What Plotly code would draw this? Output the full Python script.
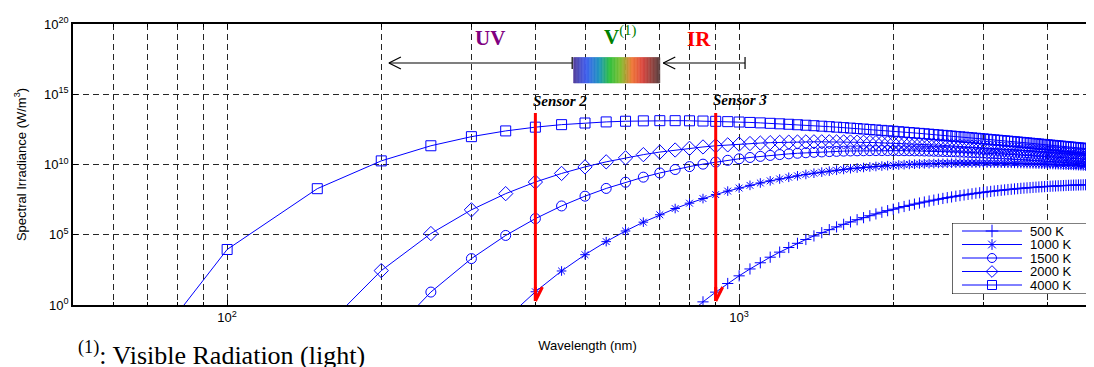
import math
import plotly.graph_objects as go

# ---------------- data ----------------
wavelength_nm = [50, 100, 150, 200, 250, 300, 350, 400, 450, 500,
                 550, 600, 650, 700, 750, 800, 850, 900, 950, 1000,
                 1050, 1100, 1150, 1200, 1250, 1300, 1350, 1400, 1450, 1500,
                 1550, 1600, 1650, 1700, 1750, 1800, 1850, 1900, 1950, 2000,
                 2050, 2100, 2150, 2200, 2250, 2300, 2350, 2400, 2450, 2500,
                 2550, 2600, 2650, 2700, 2750, 2800, 2850, 2900, 2950, 3000,
                 3050, 3100, 3150, 3200, 3250, 3300, 3350, 3400, 3450, 3500,
                 3550, 3600, 3650, 3700, 3750, 3800, 3850, 3900, 3950, 4000,
                 4050, 4100, 4150, 4200, 4250, 4300, 4350, 4400, 4450, 4500,
                 4550, 4600, 4650, 4700, 4750, 4800, 4850, 4900, 4950, 5000]

# spectral irradiance, given as log10(W/m^3)
log10_irr_500K = [-228.87, -105.40, -64.62, -44.42, -32.41, -24.47, -18.854, -14.680, -11.465, -8.917,
                  -6.852, -5.147, -3.718, -2.505, -1.465, -0.564, 0.223, 0.916, 1.530, 2.076,
                  2.565, 3.005, 3.403, 3.763, 4.091, 4.390, 4.664, 4.916, 5.147, 5.361,
                  5.558, 5.742, 5.912, 6.070, 6.217, 6.354, 6.482, 6.601, 6.714, 6.819,
                  6.918, 7.011, 7.098, 7.180, 7.258, 7.330, 7.400, 7.465, 7.526, 7.584,
                  7.639, 7.691, 7.741, 7.787, 7.832, 7.874, 7.914, 7.952, 7.988, 8.021,
                  8.054, 8.085, 8.114, 8.142, 8.168, 8.193, 8.218, 8.239, 8.262, 8.281,
                  8.302, 8.320, 8.337, 8.355, 8.371, 8.385, 8.400, 8.414, 8.426, 8.439,
                  8.451, 8.461, 8.472, 8.482, 8.491, 8.499, 8.508, 8.516, 8.523, 8.531,
                  8.537, 8.543, 8.549, 8.554, 8.559, 8.565, 8.568, 8.573, 8.577, 8.580]

log10_irr_1000K = [-103.89, -42.914, -22.965, -13.175, -7.412, -3.641, -1.000, 0.941, 2.421, 3.581,
                   4.510, 5.268, 5.896, 6.421, 6.866, 7.247, 7.575, 7.859, 8.107, 8.324,
                   8.516, 8.685, 8.836, 8.970, 9.090, 9.196, 9.292, 9.380, 9.457, 9.527,
                   9.590, 9.648, 9.699, 9.745, 9.787, 9.826, 9.860, 9.890, 9.919, 9.944,
                   9.966, 9.987, 10.005, 10.021, 10.036, 10.048, 10.060, 10.070, 10.078, 10.085,
                   10.091, 10.096, 10.101, 10.104, 10.106, 10.108, 10.109, 10.109, 10.109, 10.108,
                   10.106, 10.105, 10.102, 10.099, 10.096, 10.092, 10.089, 10.084, 10.080, 10.074,
                   10.069, 10.063, 10.058, 10.052, 10.046, 10.040, 10.034, 10.027, 10.020, 10.013,
                   10.006, 9.998, 9.991, 9.984, 9.976, 9.967, 9.960, 9.953, 9.944, 9.937,
                   9.929, 9.920, 9.912, 9.903, 9.895, 9.887, 9.880, 9.872, 9.864, 9.855]

log10_irr_1500K = [-62.24, -22.085, -9.079, -2.761, 0.920, 3.302, 4.951, 6.149, 7.050, 7.746,
                   8.297, 8.739, 9.100, 9.397, 9.644, 9.851, 10.025, 10.173, 10.300, 10.407,
                   10.500, 10.579, 10.648, 10.706, 10.757, 10.799, 10.836, 10.868, 10.894, 10.917,
                   10.934, 10.951, 10.963, 10.972, 10.979, 10.985, 10.988, 10.989, 10.990, 10.989,
                   10.986, 10.983, 10.978, 10.973, 10.967, 10.960, 10.953, 10.944, 10.935, 10.926,
                   10.917, 10.907, 10.897, 10.886, 10.875, 10.864, 10.853, 10.841, 10.829, 10.817,
                   10.804, 10.792, 10.780, 10.768, 10.756, 10.744, 10.731, 10.718, 10.705, 10.692,
                   10.679, 10.666, 10.653, 10.641, 10.627, 10.614, 10.602, 10.589, 10.576, 10.563,
                   10.551, 10.537, 10.525, 10.512, 10.499, 10.486, 10.474, 10.461, 10.448, 10.436,
                   10.424, 10.411, 10.399, 10.387, 10.374, 10.362, 10.350, 10.338, 10.326, 10.314]

log10_irr_2000K = [-41.41, -11.670, -2.136, 2.446, 5.086, 6.774, 7.926, 8.752, 9.364, 9.829,
                   10.190, 10.475, 10.702, 10.885, 11.032, 11.153, 11.250, 11.331, 11.396, 11.449,
                   11.492, 11.526, 11.554, 11.575, 11.591, 11.601, 11.609, 11.614, 11.614, 11.614,
                   11.609, 11.605, 11.598, 11.589, 11.580, 11.569, 11.557, 11.545, 11.532, 11.518,
                   11.503, 11.489, 11.473, 11.458, 11.442, 11.425, 11.409, 11.393, 11.377, 11.360,
                   11.343, 11.325, 11.308, 11.291, 11.274, 11.256, 11.239, 11.222, 11.205, 11.188,
                   11.170, 11.153, 11.136, 11.119, 11.103, 11.086, 11.069, 11.053, 11.036, 11.020,
                   11.003, 10.987, 10.971, 10.955, 10.939, 10.923, 10.907, 10.891, 10.876, 10.860,
                   10.845, 10.830, 10.814, 10.799, 10.784, 10.769, 10.754, 10.740, 10.725, 10.711,
                   10.696, 10.682, 10.668, 10.654, 10.640, 10.626, 10.612, 10.598, 10.585, 10.571]

log10_irr_4000K = [-10.165, 3.951, 8.279, 10.257, 11.334, 11.981, 12.390, 12.657, 12.836, 12.954,
                   13.031, 13.080, 13.107, 13.119, 13.119, 13.110, 13.094, 13.074, 13.051, 13.023,
                   12.994, 12.963, 12.931, 12.897, 12.864, 12.830, 12.795, 12.762, 12.727, 12.693,
                   12.658, 12.625, 12.591, 12.558, 12.525, 12.493, 12.460, 12.428, 12.397, 12.366,
                   12.335, 12.304, 12.275, 12.245, 12.216, 12.187, 12.159, 12.131, 12.103, 12.076,
                   12.049, 12.023, 11.996, 11.970, 11.945, 11.920, 11.895, 11.871, 11.847, 11.823,
                   11.799, 11.776, 11.753, 11.730, 11.707, 11.685, 11.663, 11.641, 11.620, 11.599,
                   11.578, 11.557, 11.536, 11.516, 11.496, 11.476, 11.457, 11.437, 11.418, 11.399,
                   11.381, 11.362, 11.343, 11.325, 11.307, 11.289, 11.271, 11.254, 11.236, 11.219,
                   11.202, 11.185, 11.168, 11.152, 11.135, 11.119, 11.103, 11.087, 11.071, 11.055]

series_names = ["500 K", "1000 K", "1500 K", "2000 K", "4000 K"]
series_values = [log10_irr_500K, log10_irr_1000K, log10_irr_1500K, log10_irr_2000K, log10_irr_4000K]

x_tick_values = [100, 1000]
x_tick_labels = ["10<sup>2</sup>", "10<sup>3</sup>"]
x_minor_values = [60, 70, 80, 90, 200, 300, 400, 500, 600, 700, 800, 900, 2000, 3000, 4000]
y_tick_values = [1e0, 1e5, 1e10, 1e15, 1e20]
y_tick_labels = ["10<sup>0</sup>", "10<sup>5</sup>", "10<sup>10</sup>", "10<sup>15</sup>", "10<sup>20</sup>"]

sensor_wavelengths_nm = [400, 900]
sensor_labels = ["Sensor 2", "Sensor 3"]
uv_arrow_nm = (207, 472)
visible_band_nm = (475, 700)
ir_arrow_nm = (711, 1027)

# ---------------- styles / geometry ----------------
BLUE = "#0000ff"
symbols = ["cross-thin-open", "asterisk-open", "circle-open", "diamond-open", "square-open"]
msizes = [8, 8, 10, 11, 10]
SANS = "Liberation Sans, Arial, Helvetica, sans-serif"
SERIF = "Liberation Serif, Times New Roman, serif"

PAGE_W, PAGE_H = 1094, 367
BODY = 8                      # default page margin around the plot div
W, H = PAGE_W, PAGE_H - BODY
PLOT_L, PLOT_T, PLOT_B, PLOT_R = 73, 24, 305, PAGE_W + BODY   # plot area in page pixels
ML, MT, MB = PLOT_L - BODY, PLOT_T - BODY, (H + BODY) - PLOT_B
MR = (W + BODY) - PLOT_R
PW = PLOT_R - PLOT_L
PH = PLOT_B - PLOT_T
DECADE_PX = 512.0
x_lo = math.log10(50)
x_hi = x_lo + PW / DECADE_PX


def px_x(px):
    return (px - PLOT_L) / PW


def px_y(py):
    return (PLOT_B - py) / PH


fig = go.Figure()
for name, vals, sym, ms in zip(series_names, series_values, symbols, msizes):
    fig.add_trace(go.Scatter(
        x=wavelength_nm, y=[10 ** v for v in vals], name=name, mode="lines+markers",
        line=dict(color=BLUE, width=1),
        marker=dict(symbol=sym, size=ms, color=BLUE, line=dict(color=BLUE, width=1)),
        showlegend=False, hoverinfo="x+y+name"))

grid = dict(showgrid=True, gridcolor="#262626", griddash="6px,4px", gridwidth=1)
fig.update_xaxes(type="log", range=[x_lo, x_hi], tickmode="array", tickvals=x_tick_values,
                 ticktext=x_tick_labels, ticks="inside", ticklen=5, tickcolor="black",
                 showline=True, linecolor="black", linewidth=1.5, mirror="allticks",
                 zeroline=False, tickfont=dict(family=SANS, size=13, color="black"),
                 minor=dict(tickvals=x_minor_values, ticks="inside", ticklen=3, tickcolor="black",
                            **grid),
                 title=dict(text="Wavelength (nm)", font=dict(family=SANS, size=13, color="black"),
                            standoff=17),
                 **grid)
fig.update_yaxes(type="log", range=[0, 20], tickmode="array", tickvals=y_tick_values,
                 ticktext=y_tick_labels, ticks="inside", ticklen=5, tickcolor="black",
                 showline=True, linecolor="black", linewidth=1.5, mirror=False,
                 zeroline=False, tickfont=dict(family=SANS, size=13, color="black"),
                 title=dict(text="Spectral Irradiance (W/m<sup>3</sup>)",
                            font=dict(family=SANS, size=13, color="black"), standoff=15),
                 **grid)

shapes = []
annotations = []

# visible-light colour bar
stops = [(0.00, (85, 64, 154)), (0.15, (64, 96, 240)), (0.30, (32, 150, 190)),
         (0.42, (48, 192, 64)), (0.55, (130, 190, 50)), (0.68, (240, 120, 56)),
         (0.80, (220, 72, 64)), (1.00, (90, 64, 64))]


def color_at(t):
    for (t0, c0), (t1, c1) in zip(stops[:-1], stops[1:]):
        if t <= t1:
            f = (t - t0) / (t1 - t0)
            return "rgb(%d,%d,%d)" % tuple(round(a + (b - a) * f) for a, b in zip(c0, c1))
    return "rgb(%d,%d,%d)" % stops[-1][1]


la, lb = math.log10(visible_band_nm[0]), math.log10(visible_band_nm[1])
N = 60
for i in range(N):
    c = color_at((i + 0.5) / N)
    shapes.append(dict(type="rect", xref="x", yref="paper",
                       x0=10 ** (la + (lb - la) * i / N), x1=10 ** (la + (lb - la) * (i + 1) / N),
                       y0=px_y(83), y1=px_y(57.5), fillcolor=c, line=dict(width=0.6, color=c),
                       layer="above"))

# black double arrows (UV, IR)
ya = px_y(63)
for (a, b) in (uv_arrow_nm, ir_arrow_nm):
    shapes.append(dict(type="line", xref="x", yref="paper", x0=a, x1=b, y0=ya, y1=ya,
                       line=dict(color="black", width=1.2), layer="above"))
    for tip, d in ((a, 12), (b, -12)):
        for s in (1, -1):
            shapes.append(dict(type="line", xref="x", yref="paper", xsizemode="pixel",
                               ysizemode="pixel", xanchor=tip, yanchor=ya, x0=0, y0=0, x1=d, y1=6 * s,
                               line=dict(color="black", width=1.2), layer="above"))

# red sensor arrows
for wl in sensor_wavelengths_nm:
    shapes.append(dict(type="line", xref="x", yref="paper", x0=wl, x1=wl, y0=px_y(113),
                       y1=px_y(301), line=dict(color="#ff0000", width=3), layer="above"))
    for s in (1, -1):
        shapes.append(dict(type="line", xref="x", yref="paper", xsizemode="pixel",
                           ysizemode="pixel", xanchor=wl, yanchor=px_y(301), x0=0, y0=0,
                           x1=7 * s, y1=14, line=dict(color="#ff0000", width=3), layer="above"))


def label(text, cx, cy, size, color, family=SERIF, xanchor="center"):
    annotations.append(dict(text=text, xref="paper", yref="paper", x=px_x(cx), y=px_y(cy),
                            xanchor=xanchor, yanchor="middle", showarrow=False,
                            font=dict(family=family, size=size, color=color)))


label("<b><i>" + sensor_labels[0] + "</i></b>", 560, 101, 15, "black")
label("<b><i>" + sensor_labels[1] + "</i></b>", 740, 100, 15, "black")
label("<b>UV</b>", 490, 38, 21, "#800080")
label("<b>V</b><sup>(1)</sup>", 620, 36, 21, "#008000")
label("<b>IR</b>", 699, 39, 21, "#ff0000")
label("<sup>(1)</sup>: Visible Radiation (light)", 76, 353.5, 26, "black", xanchor="left")

# ---------------- legend box (drawn on an overlay axis) ----------------
LX0, LX1, LY0, LY1 = 952, 1088, 223, 294
fig.add_trace(go.Scatter(x=[0, LX1 - LX0, LX1 - LX0, 0, 0], y=[0, 0, LY1 - LY0, LY1 - LY0, 0],
                         xaxis="x2", yaxis="y2", mode="lines", fill="toself", fillcolor="white",
                         line=dict(color="black", width=1.2), showlegend=False, hoverinfo="skip"))
for i, (name, sym) in enumerate(zip(series_names, symbols)):
    row = 8 + 13.5 * i
    fig.add_trace(go.Scatter(x=[10, 70], y=[row, row], xaxis="x2", yaxis="y2", mode="lines",
                             line=dict(color=BLUE, width=1), showlegend=False, hoverinfo="skip"))
    fig.add_trace(go.Scatter(x=[40], y=[row], xaxis="x2", yaxis="y2", mode="markers",
                             marker=dict(symbol=sym, size=9, color=BLUE, line=dict(color=BLUE, width=1)),
                             showlegend=False, hoverinfo="skip"))
    annotations.append(dict(text=name, xref="x2", yref="y2", x=76, y=row, xanchor="left",
                            yanchor="middle", showarrow=False,
                            font=dict(family=SANS, size=13, color="black")))

fig.update_layout(
    width=W, height=H, margin=dict(l=ML, r=MR, t=MT, b=MB, autoexpand=False),
    plot_bgcolor="white", paper_bgcolor="white", showlegend=False,
    font=dict(family=SANS, size=13, color="black"),
    xaxis2=dict(domain=[px_x(LX0), px_x(LX1)], range=[0, LX1 - LX0], anchor="y2", visible=False,
                fixedrange=True),
    yaxis2=dict(domain=[px_y(LY1), px_y(LY0)], range=[LY1 - LY0, 0], anchor="x2", visible=False,
                fixedrange=True),
    shapes=shapes, annotations=annotations,
)

fig.write_html("out.html")
